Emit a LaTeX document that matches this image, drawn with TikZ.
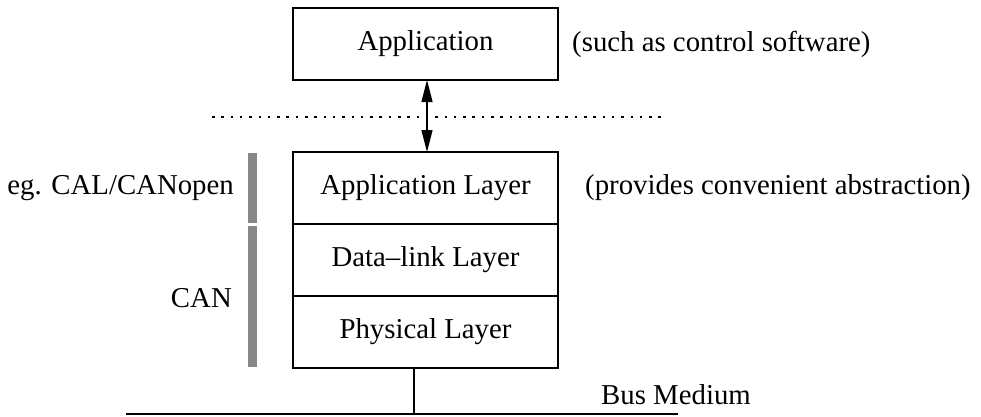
\documentclass[tikz,border=0pt]{standalone}
\usepackage{fontspec}
\setmainfont{Liberation Serif}
\usetikzlibrary{arrows.meta}
\begin{document}
\begin{tikzpicture}[x=1pt,y=-1pt,
  txt/.style={font=\fontsize{28.8}{34}\selectfont, inner sep=0pt},
  layerbox/.style={draw, line width=1.2pt},
  bar/.style={fill=black!47, draw=none},
  link/.style={line width=1.3pt},
  tip/.style={Triangle[length=22pt,width=11pt]}]
\useasboundingbox (0,0) rectangle (981,416);

% top application box
\draw[layerbox] (293,8) rectangle (558,80);
\node[txt] (app) at (425.5,44) {Application};
\coordinate (appB) at (427,80);
\node[txt, anchor=west] (appnote) at (572,44) {(such as control software)};

% boundary between application and the protocol stack
\coordinate (dotL) at (212,117);
\coordinate (dotR) at (667,117);
\draw[line width=1.3pt, dash pattern=on 2.5pt off 6.8pt] (dotL) -- (dotR);

% protocol stack
\draw[layerbox] (293,152) rectangle (558,368);
\draw[layerbox] (293,224) -- (558,224);
\draw[layerbox] (293,296) -- (558,296);
\node[txt] (al) at (425.5,188) {Application Layer};
\node[txt] (dl) at (425.5,260) {Data\textendash link Layer};
\node[txt] (pl) at (425.5,332) {Physical Layer};
\coordinate (stackT) at (427,152);
\node[txt, anchor=west] (alnote) at (585,188) {(provides convenient abstraction)};

% arrow between application and stack
\draw[link, {Triangle[length=22pt,width=11pt]}-{Triangle[length=22pt,width=11pt]}] (appB) -- (stackT);

% grey brackets on the left
\fill[bar] (247.5,153) rectangle (256.5,223);
\fill[bar] (247.5,226) rectangle (256.5,367);
\node[txt, anchor=east] (calopen) at (234,188) {eg. CAL/CANopen};
\node[txt, anchor=east] (can) at (232,298) {CAN};

% bus medium
\coordinate (busTop) at (414,368);
\coordinate (busJ) at (414,414);
\coordinate (busL) at (126,414);
\coordinate (busR) at (678,414);
\draw[link] (busTop) -- (busJ);
\draw[line width=1.2pt] (busL) -- (busR);
\node[txt, anchor=west] (bus) at (601,395) {Bus Medium};
\end{tikzpicture}
\end{document}
